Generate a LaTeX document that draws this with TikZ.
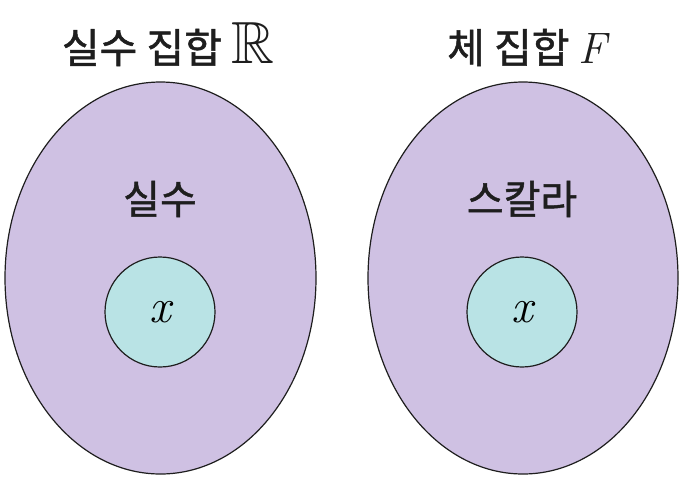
\documentclass[tikz,border=0pt]{standalone}
\usepackage{amssymb}
\usepackage{graphicx}
\usepackage{fontspec}
\newfontfamily\kr[FakeBold=1.2]{Noto Sans CJK KR}
\definecolor{setpurple}{HTML}{CFC1E3}
\definecolor{elemteal}{HTML}{B9E3E5}
\definecolor{ink}{HTML}{1E1E1E}
\begin{document}
\begin{tikzpicture}[x=1pt,y=-1pt,
  setshape/.style={draw=ink,line width=1.2pt,fill=setpurple},
  elemshape/.style={draw=ink,line width=1.2pt,fill=elemteal,circle,minimum size=110pt,inner sep=0pt,font=\fontsize{48}{48}\selectfont},
  title/.style={text=ink,font=\kr\fontsize{41}{42}\selectfont,anchor=base},
  inner/.style={text=ink,font=\kr\fontsize{40}{42}\selectfont,anchor=base}]
\useasboundingbox (0,0) rectangle (687,485);
\fill[white] (0,0) rectangle (687,485);
\draw[setshape] (160.5,278) ellipse [x radius=155.5, y radius=196];
\draw[setshape] (523,278) ellipse [x radius=155, y radius=196];
\node[title] (t1) at (168,63) {실수 집합 \scalebox{1.45}{$\mathbb{R}$}};
\node[title] (t2) at (527,63) {체 집합 {\normalfont\itshape\fontsize{44}{44}\selectfont F}};
\node[inner] (l1) at (160,214) {실수};
\node[inner] (l2) at (522,214) {스칼라};
\node[elemshape] (x1) at (160,312) {\itshape x};
\node[elemshape] (x2) at (522,312) {\itshape x};
\end{tikzpicture}
\end{document}
